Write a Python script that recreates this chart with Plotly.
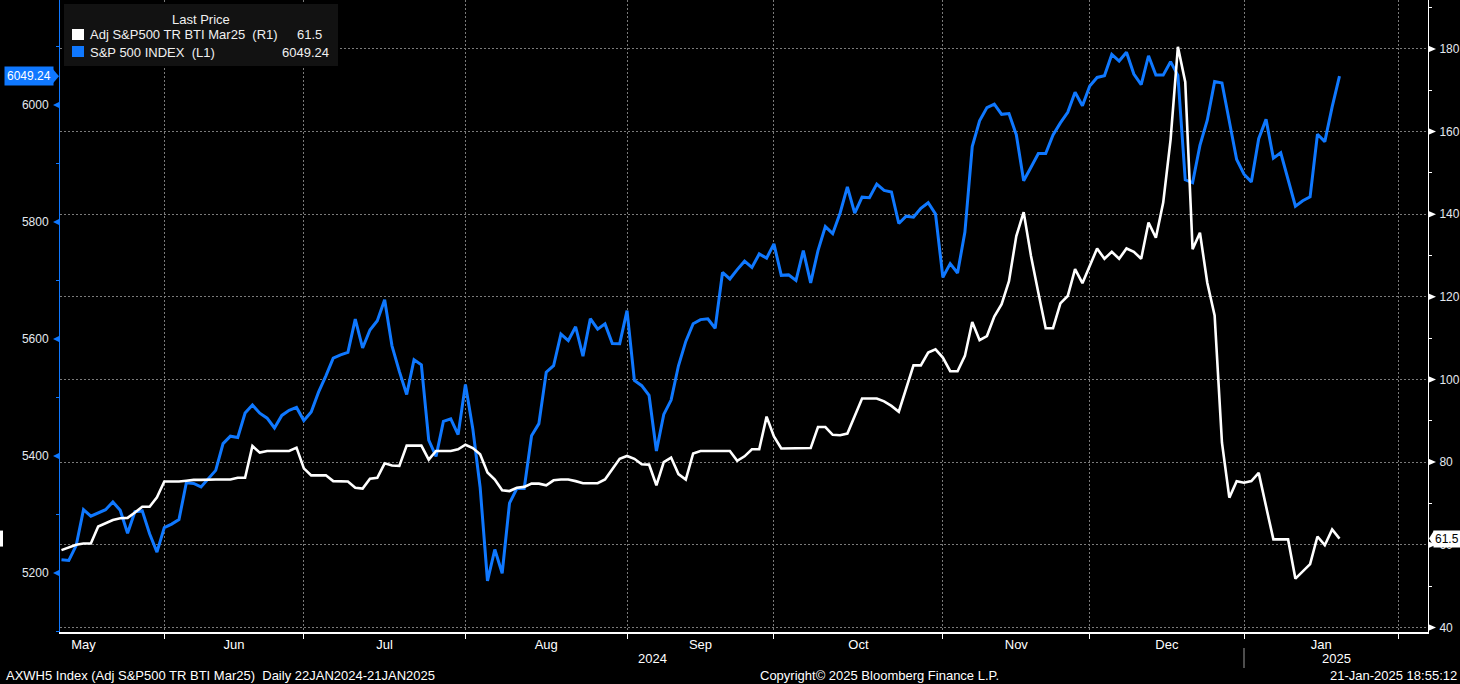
import numpy as np
import pandas as pd
import plotly.graph_objects as go

# ------------------------------------------------------------------ data
START, END = "2024-05-10", "2025-01-21"
HOLIDAYS = ["2024-05-27", "2024-06-19", "2024-07-04", "2024-09-02",
            "2024-11-28", "2024-12-25", "2025-01-01", "2025-01-20"]

# S&P 500 INDEX (L1) - one value per trading day, None = no print
SPX = [
    # May
    5222.68, 5221.42, 5246.68, 5308.15, 5297.10, 5303.27, 5308.13, 5321.41, 5307.01, 5267.84,
    5304.72, 5306.04, 5266.95, 5235.48, 5277.51,
    # Jun
    5283.40, 5291.34, 5354.03, 5352.96, 5346.99, 5360.79, 5375.32, 5421.03, 5433.74, 5431.60,
    5473.23, 5487.03, 5473.17, 5464.62, 5447.87, 5469.30, 5477.90, 5482.87, 5460.48,
    # Jul
    5475.09, 5509.01, 5537.02, 5567.19, 5572.85, 5576.98, 5633.91, 5584.54, 5615.35, 5631.22,
    5667.20, 5588.27, 5544.59, 5505.00, 5564.41, 5555.74, 5427.13, 5399.22, 5459.10, 5463.54,
    5436.44, 5522.30,
    # Aug
    5446.68, 5346.56, 5186.33, 5240.03, 5199.50, 5319.31, 5344.16, 5344.39, 5434.43, 5455.21,
    5543.22, 5554.25, 5608.25, 5597.12, 5620.85, 5570.64, 5634.61, 5616.84, 5625.80, 5592.18,
    5591.96, 5648.40,
    # Sep
    5528.93, 5520.07, 5503.41, 5408.42, 5471.05, 5495.52, 5554.13, 5595.76, 5626.02, 5633.09,
    5634.58, 5618.26, 5713.64, 5702.55, 5718.57, 5732.93, 5722.26, 5745.37, 5738.17, 5762.48,
    # Oct
    5708.75, 5709.54, 5699.94, 5751.07, 5695.94, 5751.13, 5792.04, 5780.05, 5815.03, 5859.85,
    5815.26, 5842.47, 5841.47, 5864.67, 5853.98, 5851.20, 5797.42, 5809.86, 5808.12, 5823.52,
    5832.92, 5813.67, 5705.45,
    # Nov
    5728.80, 5712.69, 5782.76, 5929.04, 5973.10, 5995.54, 6001.35, 5983.99, 5985.38, 5949.17,
    5870.62, 5893.62, 5916.98, 5917.11, 5948.71, 5969.34, 5987.37, 6021.63, 5998.74, 6032.38,
    # Dec
    6047.15, 6049.88, 6086.49, 6075.11, 6090.27, 6052.85, 6034.91, 6084.19, 6051.25, 6051.09,
    6074.08, 6050.61, 5872.16, 5867.08, 5930.85, 5974.07, 6040.04, 6037.59, 5970.84, 5906.94,
    5881.63,
    # Jan
    5868.55, 5942.47, 5975.38, 5909.03, 5918.25, None, 5827.04, 5836.22, 5842.91, 5949.91,
    5937.34, 5996.66, 6049.24,
]

# Adj S&P500 TR BTI Mar25 (R1)
BTI = [
    # May
    58.7, 59.4, 60.0, 60.3, 60.3, 64.4, 65.2, 66.0, 66.4, 66.5, 67.8, 69.2, 69.2, 71.5, 75.3,
    # Jun
    75.3, 75.3, 75.5, 75.7, 75.7, 75.8, 75.8, 75.8, 75.8, 76.2, 76.2, 83.9, 82.3, 82.7, 82.7,
    82.7, 82.7, 83.5, 78.5,
    # Jul
    76.8, 76.8, 76.8, 75.4, 75.3, 75.3, 73.8, 73.6, 76.0, 76.2, 79.7, 79.2, 79.1, 84.0, 84.0,
    84.0, 80.6, 82.7, 82.7, 82.7, 83.1, 84.2,
    # Aug
    83.4, 81.9, 77.5, 75.8, 73.2, 73.0, 73.8, 74.0, 74.8, 74.8, 74.4, 75.6, 75.8, 75.8, 75.4,
    74.9, 74.9, 74.9, 75.8, 78.2, 80.8, 81.5,
    # Sep
    80.8, 79.5, 79.4, 74.4, 80.0, 81.1, 77.1, 75.8, 82.1, 82.7, 82.7, 82.7, 82.7, 82.7, 80.3,
    81.4, 83.1, 83.1, 91.0, 86.2,
    # Oct
    83.3, 83.3, 83.3, 83.3, 83.4, 88.5, 88.5, 86.6, 86.5, 86.9, 91.1, 95.4, 95.4, 95.4, 94.7,
    93.6, 92.2, 97.9, 103.4, 103.4, 106.5, 107.3, 105.3,
    # Nov
    102.0, 102.0, 105.7, 113.9, 109.5, 110.5, 115.2, 118.2, 123.8, 134.7, 140.5, 129.9, 121.0,
    112.4, 112.4, 118.4, 120.2, 126.7, 123.3, 127.5,
    # Dec
    131.7, 129.2, 130.9, 129.2, 131.7, 130.9, 129.2, 138.0, 134.3, 142.8, 158.0, 180.5, 172.0,
    131.5, 135.5, 123.4, 115.5, 84.7, 71.4, 75.4, 75.0,
    # Jan
    75.4, 77.4, 69.3, 61.3, 61.3, 61.3, 51.8, 53.5, 55.3, 62.0, 59.9, 63.7, 61.5,
]

LEFT_TICKS = [5200, 5400, 5600, 5800, 6000]
LEFT_MINOR = [5100, 5300, 5500, 5700, 5900, 6100]
RIGHT_TICKS = [40, 60, 80, 100, 120, 140, 160, 180]
RIGHT_MINOR = [50, 70, 90, 110, 130, 150, 170, 190]

SPX_NAME = "S&P 500 INDEX\u00a0\u00a0(L1)"
BTI_NAME = "Adj S&P500 TR BTI Mar25\u00a0\u00a0(R1)"
SPX_LAST, BTI_LAST = "6049.24", "61.5"

# ------------------------------------------------------------------ styles
W, H = 1460, 684
ML, MR, MT, MB = 60, 32, 0, 52
PW, PH = W - ML - MR, H - MT - MB
BLUE = "#0f78ff"
GRID = "#7a7a7a"
TXT = "#e4e9f0"
FONT = "Liberation Sans, Arial, sans-serif"
X_RANGE = [-0.2, 186.05]
Y1_RANGE = [5099.0, 6179.5]
Y2_RANGE = [38.89, 191.83]


def px(xp):
    return (xp - ML) / PW


def py(yp):
    return (H - MB - yp) / PH


# trading-day calendar -> positions on the x axis
cal = pd.bdate_range("2024-04-01", "2025-02-28")
cal = cal[~cal.isin(pd.to_datetime(HOLIDAYS))]
pos = pd.Series(np.arange(len(cal)) - cal.get_loc(pd.Timestamp(START)), index=cal)
data_pos = pos[START:END]
assert len(data_pos) == len(SPX) == len(BTI), (len(data_pos), len(SPX), len(BTI))
xv = data_pos.values

month_end = pos.groupby(cal.to_period("M")).max()
centers = ((month_end.shift(1) + month_end) / 2).dropna()
lab_vals, lab_text = [], []
for per, c in centers.items():
    if X_RANGE[0] < c < X_RANGE[1]:
        lab_vals.append(float(c))
        lab_text.append(per.strftime("%b"))
bounds = [float(b) for b in month_end.values if X_RANGE[0] < b < X_RANGE[1]]
dec_end = float(month_end[pd.Period("2024-12", "M")])

fig = go.Figure()
fig.add_trace(go.Scatter(x=xv, y=SPX, yaxis="y", mode="lines", name=SPX_NAME,
                         line=dict(color=BLUE, width=3), connectgaps=True,
                         hoverinfo="skip"))
fig.add_trace(go.Scatter(x=xv, y=BTI, yaxis="y2", mode="lines", name=BTI_NAME,
                         line=dict(color="#ffffff", width=2.6), hoverinfo="skip"))

shapes = []
ann = []

# left axis triangle markers
for v in LEFT_TICKS:
    shapes.append(dict(type="path", xref="paper", yref="y", xsizemode="pixel",
                       ysizemode="pixel", xanchor=0, yanchor=v,
                       path="M 0,-3.5 L -7,0 L 0,3.5 Z", fillcolor=BLUE,
                       line=dict(width=0)))
# right axis triangle markers
for v in RIGHT_TICKS:
    shapes.append(dict(type="path", xref="paper", yref="y2", xsizemode="pixel",
                       ysizemode="pixel", xanchor=1, yanchor=v,
                       path="M 0,-3.5 L 8,0 L 0,3.5 Z", fillcolor="#ffffff",
                       line=dict(width=0)))

# last value tags
shapes.append(dict(type="path", xref="paper", yref="y", xsizemode="pixel",
                   ysizemode="pixel", xanchor=0, yanchor=float(SPX_LAST),
                   path="M -7,-7 L -1,0 L -7,7 Z", fillcolor=BLUE, line=dict(width=0)))
ann.append(dict(xref="paper", yref="y", x=0, y=float(SPX_LAST), xanchor="right",
                yanchor="middle", xshift=-6, text=SPX_LAST, showarrow=False,
                bgcolor=BLUE, borderpad=2, font=dict(color="#ffffff", size=12, family=FONT)))
shapes.append(dict(type="path", xref="paper", yref="y2", xsizemode="pixel",
                   ysizemode="pixel", xanchor=1, yanchor=float(BTI_LAST),
                   path="M 1,0 L 6,-8 L 6,8 Z", fillcolor="#ffffff", line=dict(width=0)))
ann.append(dict(xref="paper", yref="y2", x=1, y=float(BTI_LAST), xanchor="left",
                yanchor="middle", xshift=5, text=BTI_LAST, showarrow=False,
                bgcolor="#ffffff", borderpad=1, font=dict(color="#000000", size=12, family=FONT)))
shapes.append(dict(type="rect", xref="paper", yref="y2", xsizemode="pixel",
                   ysizemode="pixel", xanchor=0, yanchor=float(BTI_LAST),
                   x0=-60, x1=-57, y0=-8, y1=8, fillcolor="#ffffff", line=dict(width=0)))

# legend box
shapes.append(dict(type="rect", xref="paper", yref="paper", x0=px(64), x1=px(338),
                   y0=py(66), y1=py(4), fillcolor="#121212", line=dict(width=0)))
shapes.append(dict(type="rect", xref="paper", yref="paper", x0=px(72), x1=px(84),
                   y0=py(40), y1=py(29), fillcolor="#ffffff", line=dict(width=0)))
shapes.append(dict(type="rect", xref="paper", yref="paper", x0=px(72), x1=px(84),
                   y0=py(57), y1=py(46), fillcolor=BLUE, line=dict(width=0)))
lf = dict(color="#f0f0f0", size=13, family=FONT)
ann.append(dict(xref="paper", yref="paper", x=px(201), y=py(20), xanchor="center",
                yanchor="middle", text="Last Price", showarrow=False, font=lf))
ann.append(dict(xref="paper", yref="paper", x=px(88), y=py(35), xanchor="left",
                yanchor="middle", text=BTI_NAME, showarrow=False, font=lf))
ann.append(dict(xref="paper", yref="paper", x=px(324), y=py(35), xanchor="right",
                yanchor="middle", text=BTI_LAST, showarrow=False, font=lf))
ann.append(dict(xref="paper", yref="paper", x=px(88), y=py(52), xanchor="left",
                yanchor="middle", text=SPX_NAME, showarrow=False, font=lf))
ann.append(dict(xref="paper", yref="paper", x=px(331), y=py(52), xanchor="right",
                yanchor="middle", text=SPX_LAST, showarrow=False, font=lf))

# year labels + separator
yf = dict(color="#ffffff", size=13, family=FONT)
ann.append(dict(xref="x", yref="paper", x=(X_RANGE[0] + dec_end) / 2, y=py(658),
                xanchor="center", yanchor="middle", text="2024", showarrow=False, font=yf))
ann.append(dict(xref="x", yref="paper", x=(dec_end + X_RANGE[1]) / 2, y=py(658),
                xanchor="center", yanchor="middle", text="2025", showarrow=False, font=yf))
shapes.append(dict(type="line", xref="x", yref="paper", x0=dec_end, x1=dec_end,
                   y0=py(648), y1=py(668), line=dict(color="#9a9a9a", width=1)))

# footer
ff = dict(color="#ffffff", size=13, family=FONT)
ann.append(dict(xref="paper", yref="paper", x=px(4), y=py(675), xanchor="left",
                yanchor="middle", showarrow=False, font=ff,
                text="AXWH5 Index (Adj S&P500 TR BTI Mar25)\u00a0\u00a0Daily 22JAN2024-21JAN2025"))
ann.append(dict(xref="paper", yref="paper", x=px(758), y=py(675), xanchor="left",
                yanchor="middle", showarrow=False, font=ff,
                text="Copyright\u00a9 2025 Bloomberg Finance L.P."))
ann.append(dict(xref="paper", yref="paper", x=px(1459), y=py(675), xanchor="right",
                yanchor="middle", showarrow=False, font=ff,
                text="21-Jan-2025 18:55:12"))

fig.update_layout(
    width=W, height=H,
    margin=dict(l=ML, r=MR, t=MT, b=MB, pad=0),
    paper_bgcolor="#000000", plot_bgcolor="#000000",
    showlegend=False,
    font=dict(family=FONT, color=TXT, size=12),
    xaxis=dict(range=X_RANGE, tickmode="array", tickvals=lab_vals, ticktext=lab_text,
               ticks="", showgrid=False, zeroline=False, showline=True,
               linecolor="#ffffff", linewidth=1.5,
               tickfont=dict(color="#ffffff", size=13, family=FONT),
               minor=dict(tickmode="array", tickvals=bounds, ticks="outside", ticklen=5,
                          tickcolor="#ffffff", tickwidth=1, showgrid=True,
                          gridcolor=GRID, griddash="2px,2px", gridwidth=1)),
    yaxis=dict(range=Y1_RANGE, side="left", tickmode="array", tickvals=LEFT_TICKS,
               ticks="outside", ticklen=8, tickcolor="rgba(0,0,0,0)",
               showgrid=False, zeroline=False, showline=True, linecolor=BLUE,
               linewidth=1, tickfont=dict(color=TXT, size=12, family=FONT),
               minor=dict(tickmode="array", tickvals=LEFT_MINOR, ticks="outside",
                          ticklen=3, tickcolor=BLUE, showgrid=False)),
    yaxis2=dict(range=Y2_RANGE, side="right", overlaying="y", tickmode="array",
                tickvals=RIGHT_TICKS, ticks="outside", ticklen=8,
                tickcolor="rgba(0,0,0,0)", showgrid=True, gridcolor=GRID,
                griddash="2px,2px", gridwidth=1, zeroline=False, showline=True,
                linecolor="#ffffff", linewidth=1,
                tickfont=dict(color=TXT, size=12, family=FONT),
                minor=dict(tickmode="array", tickvals=RIGHT_MINOR, ticks="outside",
                           ticklen=3, tickcolor="#ffffff", showgrid=False)),
    shapes=shapes,
    annotations=ann,
)

fig.write_html("out.html")
